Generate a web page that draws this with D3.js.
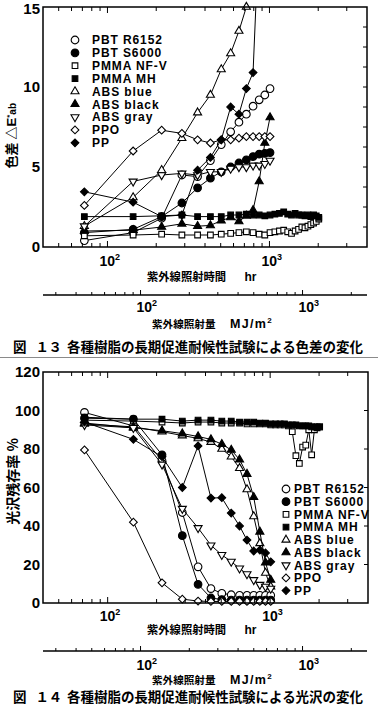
<!DOCTYPE html>
<html><head><meta charset="utf-8">
<script src="https://cdn.jsdelivr.net/npm/d3@7"></script>
<style>
body{margin:0;background:#fff}
svg{display:block}
text{font-family:"Liberation Sans",Arial,"Noto Sans CJK JP",sans-serif;font-weight:bold;fill:#000}
.jp{font-family:"Noto Sans CJK JP","Noto Sans CJK SC",sans-serif;font-weight:bold}
</style>
</head><body>
<svg id="c" width="378" height="710"></svg>
<script>
// ---------------- DATA ----------------
const hours = [72,144,216,288,360,432,504,576,648,720,792,864,936,1008,1080,1152,1224,1296,1368,1440,1512,1584,1656,1728,1800,1872,1944,2016];
const seriesNames = ["PBT R6152","PBT S6000","PMMA NF-V","PMMA MH","ABS blue","ABS black","ABS gray","PPO","PP"];

// Fig.13 color difference ΔE*ab
const dePbtR6152 = [0.4,0.9,1.8,4.5,4.4,5.4,6.4,7.2,7.8,8.3,8.8,9.2,9.5,9.9];
const dePbtS6000 = [0.9,1.1,1.9,2.75,3.7,4.3,4.7,5.0,5.25,5.45,5.65,5.8,5.85,5.9];
const dePmmaNFV  = [0.7,0.75,0.8,0.75,0.75,0.75,0.8,0.85,0.9,0.95,0.9,0.8,0.75,0.9,0.95,1.0,1.05,0.95,0.85,1.0,1.1,1.25,1.2,1.3,1.4,1.5,1.6,1.75];
const dePmmaMH   = [1.9,1.9,1.95,2.0,1.9,1.9,1.9,2.0,2.0,2.05,2.0,2.0,1.95,2.0,2.05,2.1,2.2,2.05,2.0,2.1,2.0,2.0,1.95,2.0,1.9,2.0,1.95,1.85];
const deAbsBlue  = [1.3,3.1,4.8,6.8,8.4,9.5,11.1,12.1,13.5,15.0];
const deAbsBlack = [1.0,1.05,1.25,1.45,1.3,1.35,1.65,1.85,1.6,1.95,2.3,4.1,6.5,8.1];
const deAbsGray  = [1.3,4.1,4.5,4.6,4.5,4.7,4.7,4.9,5.0,5.0,5.1,5.1,5.2,5.4];
const dePpo      = [2.6,6.0,7.3,7.1,6.7,6.5,6.7,6.7,6.8,6.9,6.9,6.9,6.9,6.9];
const dePp       = [3.45,2.8,1.9,2.0,4.8,5.6,6.7,8.75,8.3,9.9,10.9,20];

// Fig.14 gloss retention %
const glPbtR6152 = [99,92,74,47,18.8,7.5,5,4.3,4,4,4,4,4,4];
const glPbtS6000 = [96,95.5,77,35,9.7,2.6,1.8,1.5,1.5,1.5,1.5,1.5,1.5,1.5];
const glPmmaNFV  = [95,94.5,94,93.5,94,94,93.5,93.5,93.5,93,93,93,93,92.5,92.5,92.5,92.5,92,89,76.5,72.5,81,82,90,77,90,91,91.5];
const glPmmaMH   = [96.5,95.5,95.5,94.5,95,95,94.5,94.5,94,94,94,93.5,93.5,93,93,93,93,92.5,92.5,92.5,92,92,92,92,91.5,91.5,91.5,91.5];
const glAbsBlue  = [93,91.5,89,87,85.5,83.6,80,76,70,59,45,31,15.6,8.5];
const glAbsBlack = [93.5,91,89.5,88,86.5,85,82.5,79.5,74.5,67,55,37,21,12];
const glAbsGray  = [92.5,91,72,49,39,30,25,21.5,18,15,12,9.5,8.5,7.5];
const glPpo      = [79.5,42,10.5,2,1,0.8,0.8,0.8,0.8,0.8,0.8,0.8,0.8,0.8];
const glPp       = [94,85,76,60,81.6,54.5,54.7,46.7,40,32.7,27,27.5,26,21.4];

// ticks
const hourTicks = [50,60,70,80,90,100,200,300,400,500,600,700,800,900,1000,2000,3000];
const mjTicks = [30,40,50,60,70,80,90,100,200,300,400,500,600,700,800,900,1000,2000];
const decadeLabels = [{v:100,e:"2"},{v:1000,e:"3"}];
const deTicks = [0,5,10,15];
const deMinor = [1.25,2.5,3.75,5,6.25,7.5,8.75,10,11.25,12.5,13.75];
const glTicks = [0,20,40,60,80,100,120];

// ---------------- DRAW ----------------
const svg = d3.select("#c");
svg.append("rect").attr("width",378).attr("height",710).attr("fill","#fff");

const shapes = [
  {s:"circle",f:false},{s:"circle",f:true},{s:"square",f:false},{s:"square",f:true},
  {s:"tri",f:false},{s:"tri",f:true},{s:"triDown",f:false},{s:"diamond",f:false},{s:"diamond",f:true}
];
function symD(s){
  if(s==="circle") return d3.symbol(d3.symbolCircle,46)();
  if(s==="square") return d3.symbol(d3.symbolSquare,32)();
  if(s==="tri"||s==="triDown") return d3.symbol(d3.symbolTriangle,28)();
  return d3.symbol(d3.symbolSquare,30)();
}
function symRot(s){ return s==="triDown"?180:(s==="diamond"?45:0); }
function drawSym(g,shp,x,y){
  g.append("path").attr("d",symD(shp.s))
   .attr("transform",`translate(${x},${y}) rotate(${symRot(shp.s)})`)
   .attr("fill",shp.f?"#000":"#fff").attr("stroke","#000").attr("stroke-width",1.1);
}

let clipId=0;
function chart(cfg){
  const g = svg.append("g");
  const x = d3.scaleLog().domain([40,4000]).range([cfg.x0,cfg.x1]);
  const y = d3.scaleLinear().domain(cfg.yDomain).range([cfg.y1,cfg.y0]);
  const id = "clip"+(clipId++);
  svg.append("clipPath").attr("id",id).append("rect")
    .attr("x",cfg.x0).attr("y",cfg.y0).attr("width",cfg.x1-cfg.x0).attr("height",cfg.y1-cfg.y0);

  // series
  cfg.data.forEach((vals,i)=>{
    const pts = vals.map((v,k)=>[hours[k],v]);
    g.append("path").attr("clip-path",`url(#${id})`)
      .attr("d",d3.line().x(d=>x(d[0])).y(d=>y(d[1]))(pts))
      .attr("fill","none").attr("stroke","#000").attr("stroke-width",1);
    pts.filter(d=>d[1]<=cfg.yDomain[1]+0.01).forEach(d=>drawSym(g,shapes[i],x(d[0]),y(d[1])));
  });

  // frame
  g.append("rect").attr("x",cfg.x0).attr("y",cfg.y0).attr("width",cfg.x1-cfg.x0).attr("height",cfg.y1-cfg.y0)
    .attr("fill","none").attr("stroke","#000").attr("stroke-width",1.5);
  // x ticks top & bottom (inward)
  hourTicks.forEach(t=>{
    const L = (t===100||t===1000)?6:4;
    g.append("line").attr("x1",x(t)).attr("x2",x(t)).attr("y1",cfg.y1).attr("y2",cfg.y1-L).attr("stroke","#000").attr("stroke-width",1);
    g.append("line").attr("x1",x(t)).attr("x2",x(t)).attr("y1",cfg.y0).attr("y2",cfg.y0+L).attr("stroke","#000").attr("stroke-width",1);
  });
  // right ticks
  cfg.rightTicks.forEach(t=>{
    g.append("line").attr("x1",cfg.x1).attr("x2",cfg.x1-4).attr("y1",y(t)).attr("y2",y(t)).attr("stroke","#000");
  });
  // y labels
  cfg.yTicks.forEach(t=>{
    g.append("text").attr("x",cfg.x0-3).attr("y",Math.max(y(t),9)).attr("dy","0.36em")
      .attr("text-anchor","end").style("font-size",cfg.yFont+"px").text(t);
  });
  // x decade labels
  decadeLabels.forEach(d=>{
    const t = g.append("text").attr("x",x(d.v)-8).attr("y",cfg.xLabBase).style("font-size","14px");
    t.append("tspan").text("10");
    t.append("tspan").attr("dy",-6).style("font-size","9px").text(d.e);
  });
  // time axis title
  g.append("text").attr("class","jp").attr("x",147).attr("y",cfg.timeBase).style("font-size","11.3px").text("紫外線照射時間");
  g.append("text").attr("x",244.5).attr("y",cfg.timeBase).style("font-size","12px").text("hr");

  // secondary axis (irradiation)
  const xm = d3.scaleLog().domain([25,2500]).range([cfg.x0,367]);
  g.append("line").attr("x1",cfg.x0).attr("x2",367).attr("y1",cfg.secY).attr("y2",cfg.secY).attr("stroke","#000").attr("stroke-width",1.4);
  mjTicks.forEach(t=>{
    const L=(t===100||t===1000)?5:3;
    g.append("line").attr("x1",xm(t)).attr("x2",xm(t)).attr("y1",cfg.secY).attr("y2",cfg.secY-L).attr("stroke","#000");
  });
  decadeLabels.forEach(d=>{
    const t = g.append("text").attr("x",xm(d.v)-4).attr("y",cfg.secLabBase).style("font-size","14px");
    t.append("tspan").text("10");
    t.append("tspan").attr("dy",-6).style("font-size","9px").text(d.e);
  });
  g.append("text").attr("class","jp").attr("x",152).attr("y",cfg.mjBase).style("font-size","10.6px").text("紫外線照射量");
  const mt = g.append("text").attr("x",230).attr("y",cfg.mjBase).style("font-size","12.5px").style("letter-spacing","1.3px");
  mt.append("tspan").text("MJ/m");
  mt.append("tspan").attr("dy",-5).style("font-size","8px").text("2");

  // caption
  const cap = g.append("text").attr("class","jp").attr("y",cfg.capBase).style("font-size","13.5px");
  cap.append("tspan").attr("x",13).text("図");
  cap.append("tspan").attr("x",35.5).text("１");
  cap.append("tspan").attr("x",48.5).text(cfg.figNo);
  g.append("text").attr("class","jp").attr("x",67).attr("y",cfg.capBase).style("font-size","13.5px")
    .attr("textLength",296).attr("lengthAdjust","spacing").text(cfg.caption);

  // legend
  seriesNames.forEach((n,i)=>{
    const cy = cfg.leg.y + i*cfg.leg.dy;
    drawSym(g,shapes[i],cfg.leg.sx,cy);
    g.append("text").attr("x",cfg.leg.tx).attr("y",cy+4.3).style("font-size","12px").style("letter-spacing","0.9px").text(n);
  });
  return g;
}

// Fig 13
const g1 = chart({
  x0:43,x1:367,y0:7,y1:247,yDomain:[0,15],yTicks:deTicks,rightTicks:deMinor,yFont:15,
  data:[dePbtR6152,dePbtS6000,dePmmaNFV,dePmmaMH,deAbsBlue,deAbsBlack,deAbsGray,dePpo,dePp],
  xLabBase:265.5,timeBase:280.5,secY:295,secLabBase:312,mjBase:328,capBase:351.5,
  figNo:"３",caption:"各種樹脂の長期促進耐候性試験による色差の変化",
  leg:{sx:75,tx:92,y:40,dy:12.85}
});
// y title Fig 13
const yt1 = svg.append("text").attr("transform","translate(16,103) rotate(-90)").attr("text-anchor","end").style("font-size","13px");
yt1.append("tspan").attr("class","jp").text("色差 △");
yt1.append("tspan").text("E");
yt1.append("tspan").attr("dy",-4).style("font-size","8px").text("*");
yt1.append("tspan").attr("dy",4).style("font-size","10px").text("ab");

// separator
svg.append("line").attr("x1",0).attr("x2",378).attr("y1",357.5).attr("y2",357.5).attr("stroke","#8a8a8a").attr("stroke-width",1.2);

// Fig 14
const g2 = chart({
  x0:43,x1:368,y0:372,y1:603,yDomain:[0,120],yTicks:glTicks,rightTicks:[20,40,60,80,100],yFont:15,
  data:[glPbtR6152,glPbtS6000,glPmmaNFV,glPmmaMH,glAbsBlue,glAbsBlack,glAbsGray,glPpo,glPp],
  xLabBase:620.5,timeBase:634,secY:651,secLabBase:670,mjBase:684,capBase:702,
  figNo:"４",caption:"各種樹脂の長期促進耐候性試験による光沢の変化",
  leg:{sx:286,tx:294,y:489,dy:12.7}
});
svg.append("text").attr("class","jp").attr("transform","translate(18,438) rotate(-90)").attr("text-anchor","end")
  .style("font-size","14px").text("光沢残存率 %");
</script>
</body></html>
